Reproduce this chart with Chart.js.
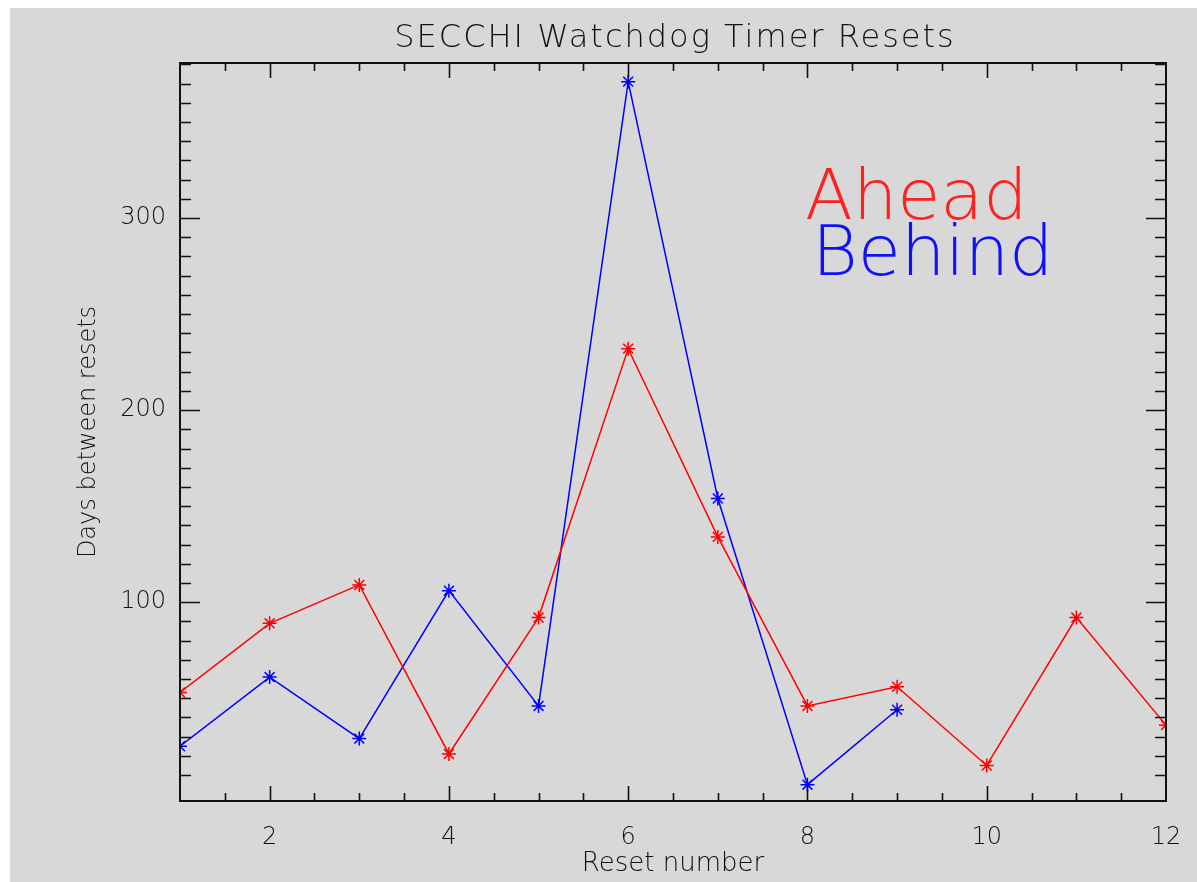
<!DOCTYPE html>
<html>
<head>
<meta charset="utf-8">
<script src="https://cdn.jsdelivr.net/npm/chart.js@4.4.1/dist/chart.umd.min.js"></script>
<style>
  html, body { margin: 0; padding: 0; background: #ffffff; }
  #wrap { width: 1197px; height: 882px; }
</style>
</head>
<body>
<div id="wrap"><canvas id="resetChart" width="1197" height="882"></canvas></div>
<script>
const resetNumbers = [1, 2, 3, 4, 5, 6, 7, 8, 9, 10, 11, 12];
const aheadDays = [53, 89, 109, 21, 92, 232, 134, 46, 56, 15, 92, 36];
const behindDays = [25, 61, 29, 106, 46, 371, 154, 5, 44];
const xTickLabels = [2, 4, 6, 8, 10, 12];
const yTickLabels = [100, 200, 300];

const FONT = "'DejaVu Sans', sans-serif";
const chartTitle = "SECCHI Watchdog Timer Resets";

const toPoints = (vals) => vals.map((v, i) => ({ x: resetNumbers[i], y: v }));

// gray backdrop, box frame, inward IDL-style ticks, title and the text legend
const idlFrame = {
  id: "idlFrame",
  beforeDraw(chart) {
    const c = chart.ctx;
    c.save();
    c.fillStyle = "#d8d8d8";
    c.fillRect(10, 8, chart.width - 10, chart.height - 8);
    c.restore();
  },
  afterDraw(chart) {
    const c = chart.ctx;
    const a = chart.chartArea;
    const xs = chart.scales.x;
    const ys = chart.scales.y;
    c.save();
    c.strokeStyle = "#111";
    c.lineWidth = 2;
    c.strokeRect(a.left, a.top, a.right - a.left, a.bottom - a.top);
    c.lineWidth = 1.6;
    c.beginPath();
    for (let v = xs.min + 0.5; v < xs.max; v += 0.5) {
      const px = Math.round(xs.getPixelForValue(v)) + 0.5;
      const len = xTickLabels.includes(v) ? 15 : 8;
      c.moveTo(px, a.bottom); c.lineTo(px, a.bottom - len);
      c.moveTo(px, a.top); c.lineTo(px, a.top + len);
    }
    for (let v = 10; v < ys.max; v += 10) {
      const py = Math.round(ys.getPixelForValue(v)) + 0.5;
      const len = v % 100 === 0 ? 20 : 11;
      c.moveTo(a.left, py); c.lineTo(a.left + len, py);
      c.moveTo(a.right, py); c.lineTo(a.right - len, py);
    }
    c.stroke();

    // title centred over the plot box, like IDL does
    c.fillStyle = "#111";
    c.font = "200 32px " + FONT;
    c.letterSpacing = "2px";
    c.textAlign = "center";
    c.textBaseline = "alphabetic";
    c.fillText(chartTitle, (a.left + a.right) / 2 + 2, 47);

    c.letterSpacing = "0px";
    c.textAlign = "left";
    c.font = "200 70px " + FONT;
    c.fillStyle = "#ff2020";
    c.fillText("Ahead", 805, 219);
    c.fillStyle = "#1010ff";
    c.fillText("Behind", 812, 275);
    c.restore();
  }
};

new Chart(document.getElementById("resetChart"), {
  type: "line",
  data: {
    datasets: [
      {
        label: "Ahead",
        data: toPoints(aheadDays),
        borderColor: "#ff0000",
        backgroundColor: "#ff0000",
        borderWidth: 1.5,
        pointStyle: "star",
        pointRadius: 7,
        pointBorderWidth: 1.5,
        tension: 0,
      },
      {
        label: "Behind",
        data: toPoints(behindDays),
        borderColor: "#0000ff",
        backgroundColor: "#0000ff",
        borderWidth: 1.5,
        pointStyle: "star",
        pointRadius: 7,
        pointBorderWidth: 1.5,
        tension: 0,
      },
    ],
  },
  options: {
    responsive: false,
    animation: false,
    layout: {
      padding: { left: 0, right: 31, top: 63, bottom: 0 },
    },
    plugins: {
      legend: { display: false },
      tooltip: { enabled: false },
      title: { display: false },
    },
    scales: {
      x: {
        type: "linear",
        min: 1,
        max: 12,
        grid: { display: false, drawTicks: false },
        border: { display: false },
        afterBuildTicks(scale) {
          scale.ticks = xTickLabels.map((v) => ({ value: v }));
        },
        afterFit(scale) {
          scale.height = 81;
          scale.paddingLeft = 0;
          scale.paddingRight = 0;
        },
        ticks: {
          color: "#111",
          padding: 22,
          maxRotation: 0,
          font: { family: FONT, size: 24, weight: 200 },
        },
        title: {
          display: true,
          text: "Reset number",
          color: "#111",
          padding: { top: 0, bottom: 2 },
          font: { family: FONT, size: 26, weight: 200 },
        },
      },
      y: {
        min: -3.5,
        max: 380.7,
        grid: { display: false, drawTicks: false },
        border: { display: false },
        afterBuildTicks(scale) {
          scale.ticks = yTickLabels.map((v) => ({ value: v }));
        },
        afterFit(scale) {
          scale.width = 180;
          scale.paddingTop = 0;
          scale.paddingBottom = 0;
        },
        ticks: {
          color: "#111",
          padding: 14,
          font: { family: FONT, size: 24, weight: 200 },
        },
        title: {
          display: true,
          text: "Days between resets",
          color: "#111",
          padding: { top: 74, bottom: 0 },
          font: { family: FONT, size: 24, weight: 200 },
        },
      },
    },
  },
  plugins: [idlFrame],
});
</script>
</body>
</html>
